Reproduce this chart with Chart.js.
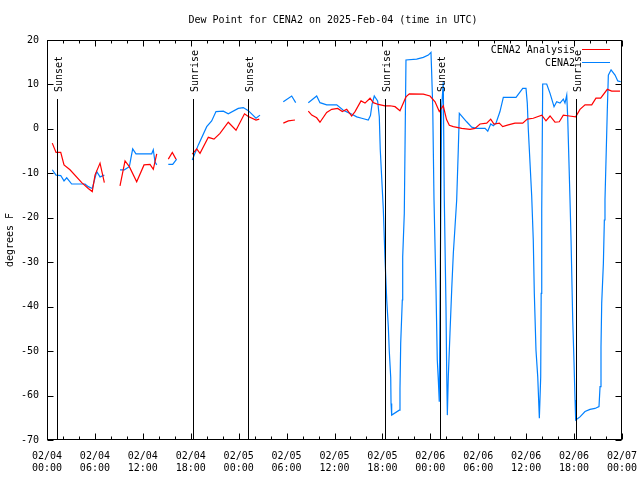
<!DOCTYPE html>
<html>
<head>
<meta charset="utf-8">
<script src="https://cdn.jsdelivr.net/npm/chart.js@4/dist/chart.umd.min.js"></script>
<style>
  html, body { margin: 0; padding: 0; background: #fff; }
  canvas { display: block; }
</style>
</head>
<body>
<canvas id="dewChart" width="640" height="480"></canvas>
<script>
// hours since 02/04 00:00 UTC, null = missing report
const analysisHours = [0.66,1.13,1.72,2.13,2.88,4.35,5.17,5.67,6.01,6.64,7.18, 8.2,
  9.14,9.77,10.31,11.23,12.15,12.90,13.31,13.74, 14.5, 15.19,15.69,16.15, 17.2,
  18.19,18.75,19.16,20.20,20.91,21.66,22.70,23.67,24.73,25.21,26.17,26.58, 28,
  29.59,30.22,31.05, 32,
  32.72,33.15,33.77,34.18,35.02,35.65,36.40,36.98,37.53,38.15,38.57,
  39.32,39.82,40.45,40.86,41.49,42.32,42.95,43.58,44.20,44.95,45.37,
  47.12,47.96,48.59,49.12,49.62,50.03,50.38,50.88,51.93,52.97,
  53.59,54.22,55.06,55.56,55.97,56.64,57.06,57.76,58.60,59.57,
  60.14,60.89,61.95,62.48,62.99,63.61,64.15,64.65,65.40,66.20,
  66.74,67.37,68.21,68.74,69.33,70.16,70.71,71.75];
const analysisValues = [-3.2,-5.3,-5.3,-8.1,-9.2,-12.1,-13.4,-14.1,-10.4,-7.7,-12.1, null,
  -12.8,-7.2,-8.5,-11.9,-8.1,-8.0,-9.1,-5.6, null, -6.8,-5.3,-6.8, null,
  -5.7,-4.5,-5.5,-1.9,-2.3,-1.0,1.5,-0.3,3.4,2.8,2.0,2.2, null,
  1.3,1.8,2.0, null,
  4.0,3.1,2.5,1.5,3.7,4.4,4.6,3.9,4.4,2.9,3.9,
  6.3,5.8,6.9,5.9,5.5,5.2,5.2,5.0,4.1,7.2,7.9,
  7.8,7.4,6.1,3.9,5.2,2.1,0.8,0.5,0.1,-0.1,
  0.1,1.1,1.3,2.2,1.1,1.3,0.5,0.9,1.3,1.3,
  2.2,2.4,3.1,1.8,2.9,1.5,1.6,3.1,2.9,2.7,
  4.4,5.4,5.4,6.9,6.9,8.9,8.5,8.5];

const obsHours = [0.66,1.13,1.72,2.13,2.47,3.09,4.76,5.17,5.67,6.22,6.64,7.18, 8.2,
  9.14,9.68,10.31,10.73,11.14,13.11,13.31,13.52,13.74, 14.5, 15.19,15.74,16.24, 17.2,
  18.19,18.95,20.0,20.62,21.16,22.08,22.70,23.95,24.58,25.21,26.17,26.67, 28,
  29.59,30.64,31.14, 32,
  32.72,33.77,34.18,35.02,36.28,37.10,37.94,38.78,39.41,40.23,
  40.5,40.70,40.98,41.40,41.61,41.73,
  42.11,42.32,42.54,42.74,42.86,43.04,43.08,43.16,
  44.11,44.20,44.29,44.49,44.54,44.74,
  44.95,46.29,47.12,47.75,48.08,
  48.17,48.30,48.46,48.71,48.87,49.0,49.12,
  49.30,49.42,49.62,49.75,49.96,50.05,50.13,
  50.25,50.46,50.68,50.88,51.09,51.30,51.50,51.63,
  52.55,53.18,53.81,54.85,55.19,55.56,55.89,56.22,56.72,57.14,
  58.73,59.57,59.98,60.14,60.27,
  60.69,60.89,61.02,61.23,61.45,61.65,
  61.82,61.88,61.95,62.07,62.57,62.99,
  63.49,63.82,64.24,64.65,64.86,65.08,65.20,
  65.49,65.62,65.83,65.99,66.12,66.20,
  66.74,67.37,67.99,68.62,69.12,
  69.25,69.37,69.46,69.67,69.79,69.87,
  70.16,70.29,70.63,71.13,71.47,71.84];
const obsValues = [-9.2,-10.4,-10.5,-11.7,-11.0,-12.4,-12.4,-13.0,-13.4,-9.6,-10.8,-10.4, null,
  -9.2,-9.2,-8.5,-4.5,-5.6,-5.6,-4.7,-7.4,-8.1, null, -8.0,-8.0,-6.8, null,
  -7.0,-3.6,0.5,1.8,3.9,4.0,3.4,4.6,4.8,4.1,2.4,3.1, null,
  6.1,7.4,5.9, null,
  5.9,7.4,5.9,5.4,5.4,4.2,3.5,2.7,2.4,2.0,
  3.0,5.5,7.4,6.3,2.7,-4.7,
  -18,-29,-38.5,-44.5,-50,-56,-61.8,-64.4,
  -63.3,-58.4,-48.2,-38.5,-28.8,-19.0,
  15.5,15.7,16.1,16.6,17.2,
  12.5,5,-16,-36.2,-52,-56.5,-61.4,
  -20,5,10.5,-16,-40,-55,-64.4,
  -55.8,-46,-36,-28,-22,-16,-4.7,3.5,
  1.6,0.4,0.1,0.1,-0.5,1.1,0.7,1.3,3.9,7.1,
  7.1,9.1,9.1,5.8,-0.2,
  -15,-25,-37,-49.8,-55.8,-65.1,
  -55.8,-37,-18.2,10.1,10.1,8.0,
  5.0,6.1,5.8,6.7,5.8,7.6,2.7,
  -16,-25,-43,-52.4,-61,-65.5,
  -64.8,-63.6,-63.1,-62.9,-62.5,
  -58,-49,-39.2,-30.2,-20.5,-16,
  4.2,12.1,13.3,12.1,10.8,10.6];

const sunHours = [1.21, 18.28, 25.21, 42.32, 49.25, 66.24];
const sunLabels = ["Sunset", "Sunrise", "Sunset", "Sunrise", "Sunset", "Sunrise"];

const xTickLabels = [
  ["02/04", "00:00"], ["02/04", "06:00"], ["02/04", "12:00"], ["02/04", "18:00"],
  ["02/05", "00:00"], ["02/05", "06:00"], ["02/05", "12:00"], ["02/05", "18:00"],
  ["02/06", "00:00"], ["02/06", "06:00"], ["02/06", "12:00"], ["02/06", "18:00"],
  ["02/07", "00:00"]
];

const seriesNames = ["CENA2 Analysis", "CENA2"];
const seriesColors = ["#ff0000", "#0080ff"];

const MONO = '"DejaVu Sans Mono", "Liberation Mono", monospace';

function toPoints(hours, values) {
  return hours.map((h, i) => ({ x: h, y: values[i] }));
}

const decorPlugin = {
  id: "decor",
  afterDraw(chart) {
    const { ctx, chartArea: a, scales } = chart;
    const xs = scales.x;
    const ys = scales.y;
    const px = (v) => Math.round(xs.getPixelForValue(v)) + 0.5;
    const py = (v) => Math.round(ys.getPixelForValue(v)) + 0.5;

    ctx.save();
    ctx.strokeStyle = "#000";
    ctx.fillStyle = "#000";
    ctx.lineWidth = 1;
    ctx.font = "10px " + MONO;

    // frame
    const L = Math.round(a.left) + 0.5, R = Math.round(a.right) - 0.5;
    const T = Math.round(a.top) + 0.5, B = Math.round(a.bottom) - 0.5;
    ctx.strokeRect(L, T, R - L, B - T);

    // x ticks, every 2 h, long every 6 h
    ctx.beginPath();
    for (let h = 0; h <= 72; h += 2) {
      const len = h % 6 === 0 ? 6 : 3;
      const x = px(h);
      ctx.moveTo(x, B); ctx.lineTo(x, B - len);
      ctx.moveTo(x, T); ctx.lineTo(x, T + len);
    }
    // y ticks
    for (let v = -70; v <= 20; v += 10) {
      const y = py(v);
      ctx.moveTo(L, y); ctx.lineTo(L + 6, y);
      ctx.moveTo(R, y); ctx.lineTo(R - 6, y);
    }
    ctx.stroke();

    // sunrise / sunset markers
    sunHours.forEach((h, i) => {
      const x = px(h);
      ctx.beginPath();
      ctx.moveTo(x, a.top + 59);
      ctx.lineTo(x, a.bottom);
      ctx.stroke();
      ctx.save();
      ctx.translate(x + 1.5, a.top + 52);
      ctx.rotate(-Math.PI / 2);
      ctx.textAlign = "left";
      ctx.textBaseline = "middle";
      ctx.fillText(sunLabels[i], 0, 0);
      ctx.restore();
    });

    // legend
    ctx.textAlign = "right";
    ctx.textBaseline = "middle";
    seriesNames.forEach((name, i) => {
      const y = 49.5 + i * 13;
      ctx.fillStyle = "#000";
      ctx.fillText(name, 575, y + 1);
      ctx.strokeStyle = seriesColors[i];
      ctx.beginPath();
      ctx.moveTo(582, y);
      ctx.lineTo(610, y);
      ctx.stroke();
    });

    // title
    ctx.fillStyle = "#000";
    ctx.textAlign = "center";
    ctx.fillText("Dew Point for CENA2 on 2025-Feb-04 (time in UTC)", 333, 20);

    // y axis title
    ctx.save();
    ctx.translate(10, 240);
    ctx.rotate(-Math.PI / 2);
    ctx.textAlign = "center";
    ctx.fillText("degrees F", 0, 0);
    ctx.restore();

    ctx.restore();
  }
};

new Chart(document.getElementById("dewChart"), {
  type: "line",
  data: {
    datasets: [
      {
        label: seriesNames[0],
        data: toPoints(analysisHours, analysisValues),
        borderColor: seriesColors[0],
        borderWidth: 1.2,
        pointRadius: 0,
        tension: 0,
        spanGaps: false
      },
      {
        label: seriesNames[1],
        data: toPoints(obsHours, obsValues),
        borderColor: seriesColors[1],
        borderWidth: 1.2,
        pointRadius: 0,
        tension: 0,
        spanGaps: false
      }
    ]
  },
  options: {
    responsive: false,
    animation: false,
    layout: { padding: { top: 40, right: 18, left: 0, bottom: 0 } },
    plugins: {
      legend: { display: false },
      title: { display: false },
      tooltip: { enabled: false }
    },
    scales: {
      x: {
        type: "linear",
        min: 0,
        max: 72,
        grid: { display: false },
        border: { display: false },
        afterFit: (scale) => {
          scale.height = 40;
          scale.paddingLeft = 0;
          scale.paddingRight = 0;
        },
        afterBuildTicks: (scale) => {
          scale.ticks = xTickLabels.map((_, i) => ({ value: i * 6 }));
        },
        ticks: {
          autoSkip: false,
          maxRotation: 0,
          padding: 2,
          color: "#000",
          font: { family: MONO, size: 10, lineHeight: 1.2 },
          callback: (value) => xTickLabels[Math.round(value / 6)]
        }
      },
      y: {
        min: -70,
        max: 20,
        grid: { display: false },
        border: { display: false },
        afterFit: (scale) => {
          scale.width = 47;
          scale.paddingTop = 0;
          scale.paddingBottom = 0;
        },
        ticks: {
          stepSize: 10,
          padding: 0,
          color: "#000",
          font: { family: MONO, size: 10 }
        }
      }
    }
  },
  plugins: [decorPlugin]
});
</script>
</body>
</html>
